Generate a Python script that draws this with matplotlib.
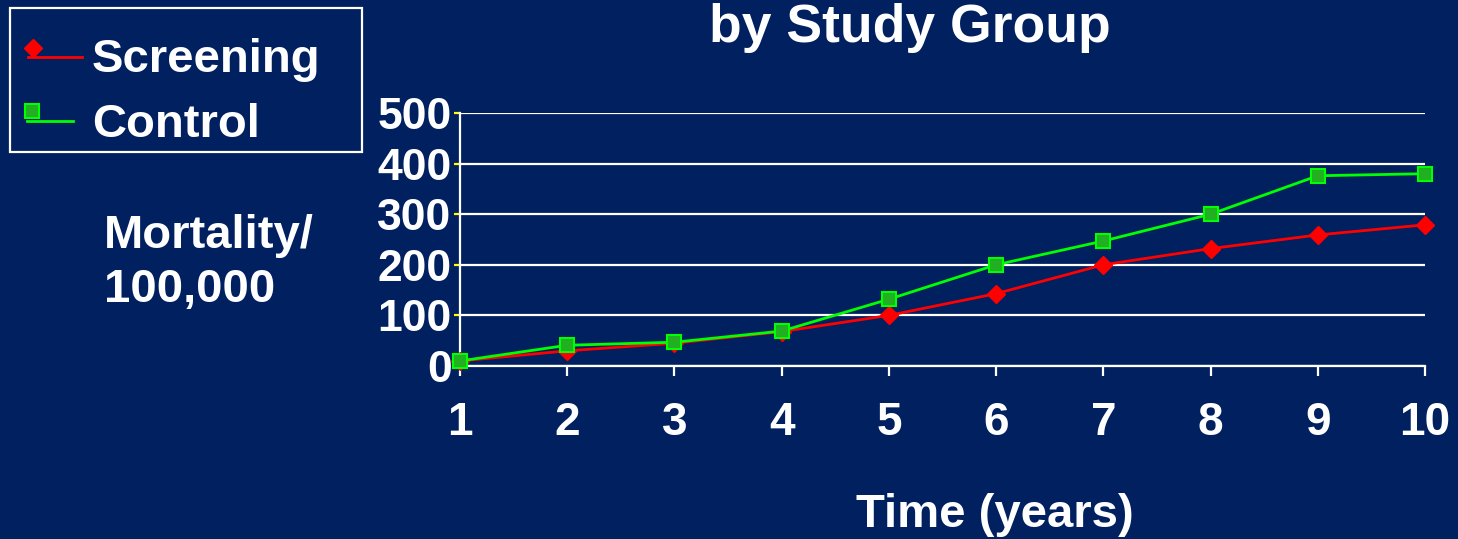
import matplotlib
matplotlib.use("Agg")
import matplotlib.pyplot as plt
from matplotlib.lines import Line2D
from matplotlib.patches import Rectangle

years = [1, 2, 3, 4, 5, 6, 7, 8, 9, 10]
screening = [10, 30, 45, 68, 100, 143, 200, 232, 259, 279]
control = [10, 41, 47, 69, 132, 200, 247, 300, 376, 380]
y_ticks = [0, 100, 200, 300, 400, 500]

navy = "#002060"
W, H = 1458, 539
plt.rcParams["font.family"] = ["Liberation Sans", "DejaVu Sans"]
plt.rcParams["font.weight"] = "bold"

red_style = dict(color="#ff0000", lw=2, marker="D", ms=9, mfc="#ff0000", mec="#ff0000")
green_style = dict(color="#00ff00", lw=2, marker="s", ms=10, mfc="#22b022",
                   mec="#00ff00", mew=1.5)

fig = plt.figure(figsize=(W / 100, H / 100), dpi=100, facecolor=navy)
ax = fig.add_axes([460 / W, 173 / H, 965 / W, 253 / H])
ax.set_facecolor(navy)

ax.plot(years, screening, clip_on=False, zorder=3, **red_style)
ax.plot(years, control, clip_on=False, zorder=4, **green_style)

ax.set_xlim(1, 10)
ax.set_ylim(0, 500)
ax.set_xticks(years)
ax.set_yticks(y_ticks)
ax.grid(axis="y", color="white", lw=1.6)
ax.set_axisbelow(True)
for s in ["top", "right"]:
    ax.spines[s].set_visible(False)
for s in ["left", "bottom"]:
    ax.spines[s].set_color("white")
    ax.spines[s].set_linewidth(1.6)

ax.tick_params(axis="x", colors="white", length=7, width=1.6, pad=18, labelsize=33)
ax.tick_params(axis="y", color="#ffff00", labelcolor="white", length=4, width=1.6,
               pad=2, labelsize=32)
for lab in ax.get_xticklabels() + ax.get_yticklabels():
    lab.set_fontweight("bold")


def px(x, y):
    # slide pixel coords (origin top-left) -> figure fraction
    return x / W, 1 - y / H


fig.text(*px(910, 42), "by Study Group", color="white", fontsize=38.5,
         fontweight="bold", ha="center", va="baseline")
fig.text(*px(104, 248), "Mortality/", color="white", fontsize=34,
         fontweight="bold", ha="left", va="baseline")
fig.text(*px(104, 302), "100,000", color="white", fontsize=34,
         fontweight="bold", ha="left", va="baseline")
fig.text(*px(995, 527), "Time (years)", color="white", fontsize=34,
         fontweight="bold", ha="center", va="baseline")

# legend box drawn like the slide: marker sits at the left end, above the line
fig.add_artist(Rectangle(px(10, 152), 352 / W, 144 / H, transform=fig.transFigure,
                         facecolor="none", edgecolor="white", lw=1.6))
fig.add_artist(Line2D([28 / W, 82 / W], [px(0, 57)[1]] * 2, color="#ff0000", lw=2))
fig.add_artist(Line2D([33 / W], [px(0, 48)[1]], ls="none",
                      **{k: v for k, v in red_style.items() if k not in ("color", "lw")}))
fig.add_artist(Line2D([27 / W, 73 / W], [px(0, 121)[1]] * 2, color="#00ff00", lw=2))
fig.add_artist(Line2D([32 / W], [px(0, 111)[1]], ls="none",
                      **{k: v for k, v in green_style.items() if k not in ("color", "lw")}))
fig.text(*px(92, 72), "Screening", color="white", fontsize=34, fontweight="bold",
         ha="left", va="baseline")
fig.text(*px(92, 137), "Control", color="white", fontsize=34, fontweight="bold",
         ha="left", va="baseline")

fig.savefig("out.png", dpi=100, facecolor=navy)
